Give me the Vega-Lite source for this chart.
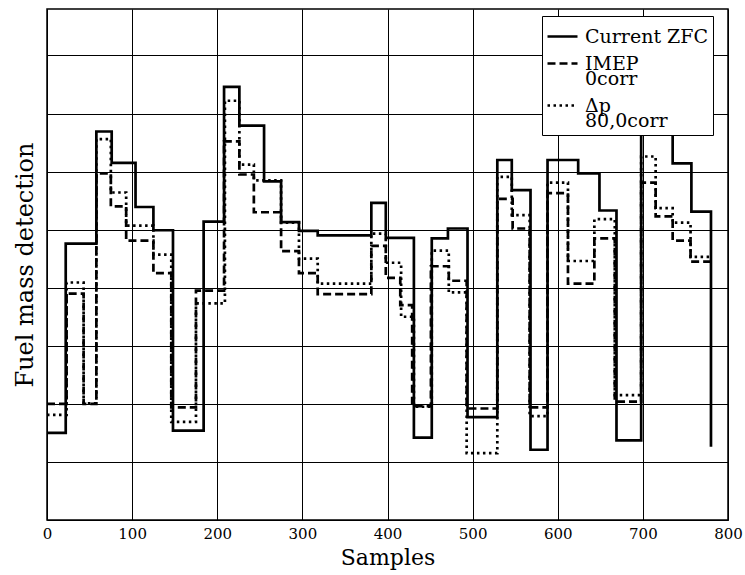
{
  "$schema": "https://vega.github.io/schema/vega-lite/v6.json",
  "width": 681,
  "height": 511,
  "autosize": {"type": "none"},
  "padding": {"left": 47, "top": 9, "right": 17, "bottom": 55},
  "background": "white",
  "config": {
    "font": "DejaVu Serif",
    "view": {"stroke": "black", "strokeWidth": 1.5},
    "axis": {"labelColor": "black", "titleColor": "black", "titleFontWeight": "normal", "gridColor": "black", "gridOpacity": 1, "gridWidth": 1, "domain": false, "ticks": false, "tickSize": 0},
    "style": {"guide-label": {"lineHeight": 15}}
  },
  "data": {
    "values": [
      {"series": "Current ZFC", "s": 0, "v": 1.5},
      {"series": "Current ZFC", "s": 22, "v": 4.76},
      {"series": "Current ZFC", "s": 58, "v": 6.69},
      {"series": "Current ZFC", "s": 76, "v": 6.15},
      {"series": "Current ZFC", "s": 104, "v": 5.39},
      {"series": "Current ZFC", "s": 125, "v": 4.99},
      {"series": "Current ZFC", "s": 148, "v": 1.54},
      {"series": "Current ZFC", "s": 184, "v": 5.14},
      {"series": "Current ZFC", "s": 208, "v": 7.46},
      {"series": "Current ZFC", "s": 226, "v": 6.79},
      {"series": "Current ZFC", "s": 255, "v": 5.83},
      {"series": "Current ZFC", "s": 275, "v": 5.13},
      {"series": "Current ZFC", "s": 296, "v": 4.98},
      {"series": "Current ZFC", "s": 318, "v": 4.9},
      {"series": "Current ZFC", "s": 381, "v": 5.46},
      {"series": "Current ZFC", "s": 398, "v": 4.86},
      {"series": "Current ZFC", "s": 431, "v": 1.42},
      {"series": "Current ZFC", "s": 452, "v": 4.85},
      {"series": "Current ZFC", "s": 471, "v": 5.02},
      {"series": "Current ZFC", "s": 494, "v": 1.77},
      {"series": "Current ZFC", "s": 529, "v": 6.2},
      {"series": "Current ZFC", "s": 546, "v": 5.68},
      {"series": "Current ZFC", "s": 568, "v": 1.21},
      {"series": "Current ZFC", "s": 588, "v": 6.2},
      {"series": "Current ZFC", "s": 624, "v": 5.97},
      {"series": "Current ZFC", "s": 649, "v": 5.33},
      {"series": "Current ZFC", "s": 669, "v": 1.37},
      {"series": "Current ZFC", "s": 698, "v": 7.5},
      {"series": "Current ZFC", "s": 718, "v": 6.69},
      {"series": "Current ZFC", "s": 735, "v": 6.14},
      {"series": "Current ZFC", "s": 757, "v": 5.31},
      {"series": "Current ZFC", "s": 780, "v": 1.26},

      {"series": "IMEP", "s": 0, "v": 2.0},
      {"series": "IMEP", "s": 23, "v": 3.9},
      {"series": "IMEP", "s": 43, "v": 2.0},
      {"series": "IMEP", "s": 58, "v": 5.97},
      {"series": "IMEP", "s": 75, "v": 5.4},
      {"series": "IMEP", "s": 93, "v": 4.81},
      {"series": "IMEP", "s": 125, "v": 4.25},
      {"series": "IMEP", "s": 146, "v": 1.94},
      {"series": "IMEP", "s": 175, "v": 3.95},
      {"series": "IMEP", "s": 208, "v": 6.52},
      {"series": "IMEP", "s": 226, "v": 5.95},
      {"series": "IMEP", "s": 243, "v": 5.3},
      {"series": "IMEP", "s": 275, "v": 4.63},
      {"series": "IMEP", "s": 296, "v": 4.25},
      {"series": "IMEP", "s": 318, "v": 3.89},
      {"series": "IMEP", "s": 381, "v": 4.72},
      {"series": "IMEP", "s": 398, "v": 4.17},
      {"series": "IMEP", "s": 415, "v": 3.7},
      {"series": "IMEP", "s": 429, "v": 1.96},
      {"series": "IMEP", "s": 451, "v": 4.37},
      {"series": "IMEP", "s": 472, "v": 4.12},
      {"series": "IMEP", "s": 493, "v": 1.92},
      {"series": "IMEP", "s": 529, "v": 5.53},
      {"series": "IMEP", "s": 547, "v": 5.02},
      {"series": "IMEP", "s": 567, "v": 1.94},
      {"series": "IMEP", "s": 588, "v": 5.63},
      {"series": "IMEP", "s": 612, "v": 4.07},
      {"series": "IMEP", "s": 643, "v": 4.85},
      {"series": "IMEP", "s": 667, "v": 2.04},
      {"series": "IMEP", "s": 698, "v": 5.81},
      {"series": "IMEP", "s": 715, "v": 5.23},
      {"series": "IMEP", "s": 735, "v": 4.81},
      {"series": "IMEP", "s": 756, "v": 4.45},
      {"series": "IMEP", "s": 780, "v": 4.45},

      {"series": "Δp", "s": 0, "v": 1.81},
      {"series": "Δp", "s": 23, "v": 4.09},
      {"series": "Δp", "s": 43, "v": 2.01},
      {"series": "Δp", "s": 58, "v": 6.56},
      {"series": "Δp", "s": 75, "v": 5.64},
      {"series": "Δp", "s": 93, "v": 5.07},
      {"series": "Δp", "s": 125, "v": 4.57},
      {"series": "Δp", "s": 146, "v": 1.69},
      {"series": "Δp", "s": 175, "v": 3.73},
      {"series": "Δp", "s": 209, "v": 7.22},
      {"series": "Δp", "s": 226, "v": 6.12},
      {"series": "Δp", "s": 243, "v": 5.85},
      {"series": "Δp", "s": 275, "v": 5.12},
      {"series": "Δp", "s": 296, "v": 4.5},
      {"series": "Δp", "s": 318, "v": 4.07},
      {"series": "Δp", "s": 381, "v": 4.93},
      {"series": "Δp", "s": 398, "v": 4.43},
      {"series": "Δp", "s": 416, "v": 3.5},
      {"series": "Δp", "s": 431, "v": 1.95},
      {"series": "Δp", "s": 452, "v": 4.64},
      {"series": "Δp", "s": 472, "v": 3.92},
      {"series": "Δp", "s": 493, "v": 1.15},
      {"series": "Δp", "s": 529, "v": 5.91},
      {"series": "Δp", "s": 546, "v": 5.25},
      {"series": "Δp", "s": 567, "v": 1.79},
      {"series": "Δp", "s": 588, "v": 5.81},
      {"series": "Δp", "s": 612, "v": 4.46},
      {"series": "Δp", "s": 643, "v": 5.18},
      {"series": "Δp", "s": 667, "v": 2.15},
      {"series": "Δp", "s": 698, "v": 6.26},
      {"series": "Δp", "s": 715, "v": 5.37},
      {"series": "Δp", "s": 735, "v": 5.12},
      {"series": "Δp", "s": 756, "v": 4.53},
      {"series": "Δp", "s": 780, "v": 4.53}
    ]
  },
  "mark": {"type": "line", "interpolate": "step-after", "strokeWidth": 2.7, "color": "black"},
  "encoding": {
    "x": {
      "field": "s", "type": "quantitative",
      "scale": {"domain": [0, 800], "nice": false},
      "axis": {"values": [0, 100, 200, 300, 400, 500, 600, 700, 800], "title": "Samples", "labelFontSize": 15, "labelPadding": 6, "titleFontSize": 22, "titlePadding": 6, "labelFlush": false}
    },
    "y": {
      "field": "v", "type": "quantitative",
      "scale": {"domain": [0, 8.8], "nice": false},
      "axis": {"values": [0, 1, 2, 3, 4, 5, 6, 7, 8], "labels": false, "title": "Fuel mass detection", "titleFontSize": 24, "titlePadding": 10}
    },
    "strokeDash": {
      "field": "series", "type": "nominal",
      "scale": {"domain": ["Current ZFC", "IMEP", "Δp"], "range": [[1, 0], [8, 4], [2.5, 3.5]]},
      "legend": {
        "title": null, "orient": "none", "legendX": 495, "legendY": 7,
        "strokeColor": "black", "fillColor": "white", "padding": 4,
        "symbolType": "stroke", "symbolSize": 900, "symbolStrokeWidth": 2.7, "symbolStrokeColor": "black",
        "labelFontSize": 19, "labelFont": "DejaVu Serif", "labelColor": "black", "labelOffset": 6,
        "labelExpr": "datum.label == 'IMEP' ? ['IMEP', '\u00a0\u00a0\u00a0\u00a0\u00a0\u00a0\u00a0\u00a0\u00a0\u00a00corr'] : datum.label == 'Δp' ? ['Δp', '\u00a0\u00a0\u00a0\u00a0\u00a080,0corr'] : datum.label",
        "rowPadding": 0, "zindex": 1
      }
    }
  }
}
